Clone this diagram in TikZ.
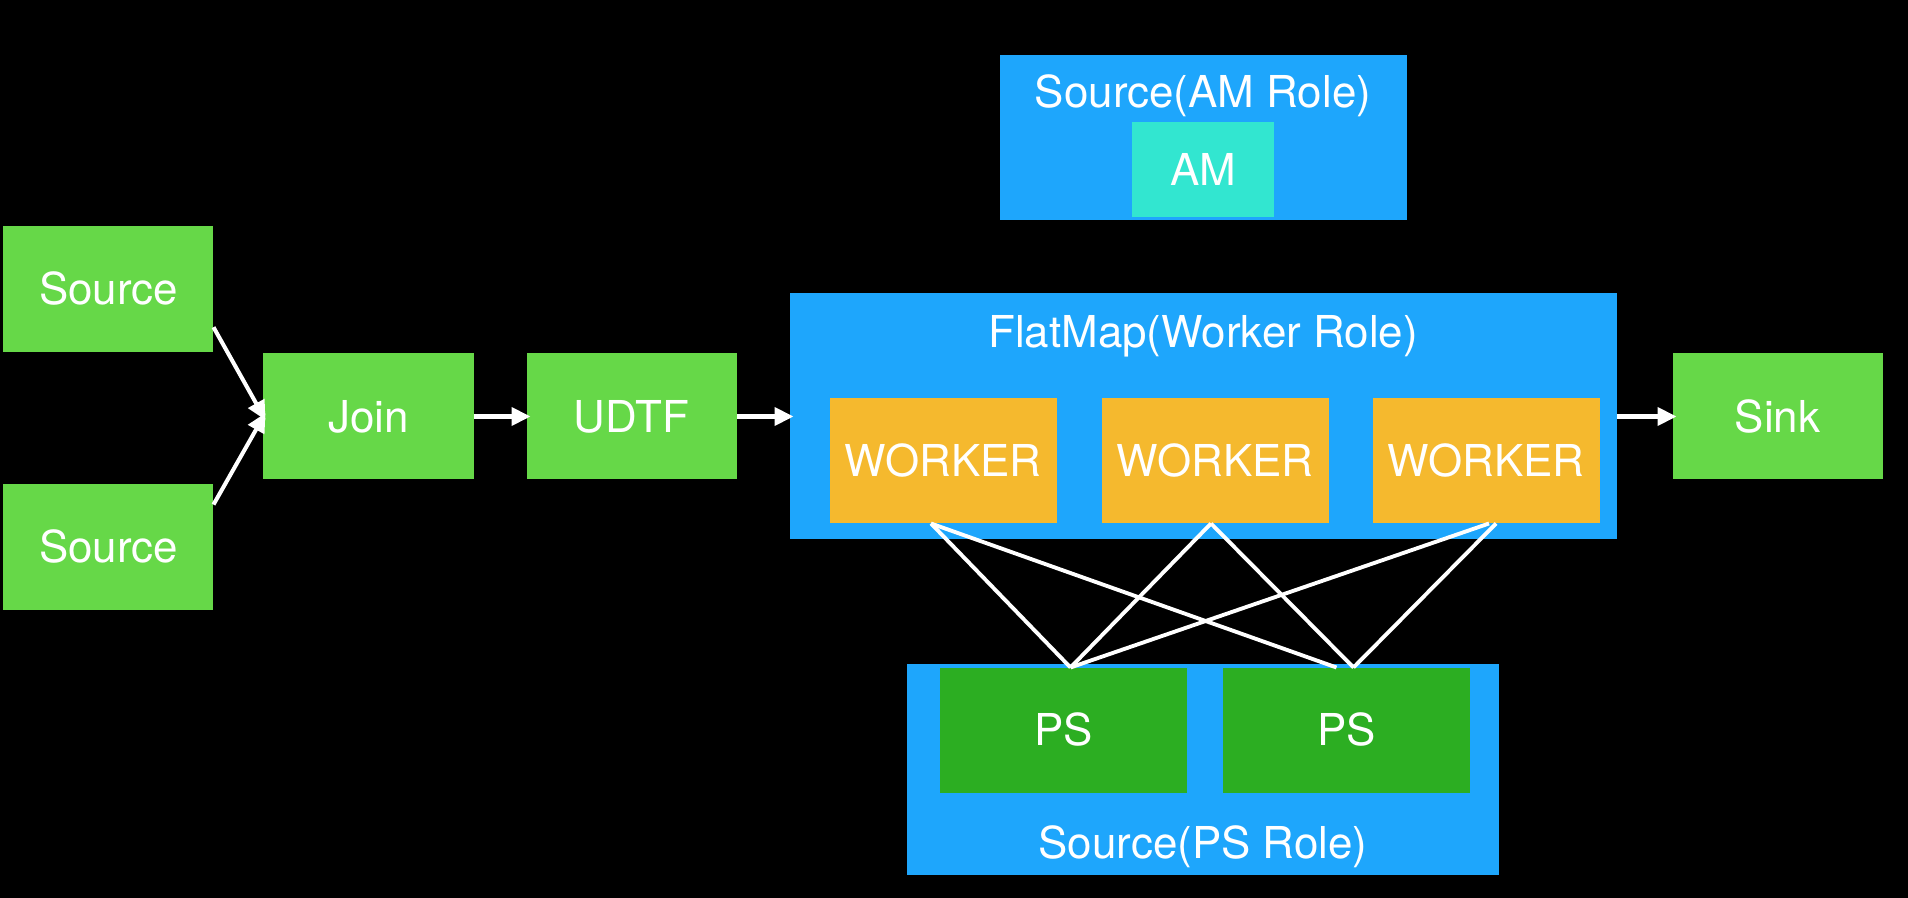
\documentclass[tikz,border=0pt]{standalone}
\usepackage{fontspec}
\setmainfont{TeX Gyre Heros}
\usepackage{tikz}
\usetikzlibrary{positioning, arrows.meta}
\definecolor{stagegreen}{RGB}{102,216,72}
\definecolor{roleblue}{RGB}{30,166,252}
\definecolor{workerorange}{RGB}{245,185,46}
\definecolor{amcyan}{RGB}{50,230,208}
\definecolor{psgreen}{RGB}{44,174,34}
\tikzstyle{stage} = [rectangle, minimum width=2.1cm, minimum height=1.26cm, text centered, fill=stagegreen, text=white]
\tikzstyle{role} = [rectangle, fill=roleblue]
\tikzstyle{roletitle} = [text=white, inner sep=0pt]
\tikzstyle{worker} = [rectangle, minimum width=2.27cm, minimum height=1.25cm, text centered, fill=workerorange, text=white]
\tikzstyle{ambox} = [rectangle, minimum width=1.42cm, minimum height=0.95cm, text centered, fill=amcyan, text=white]
\tikzstyle{psbox} = [rectangle, minimum width=2.47cm, minimum height=1.25cm, text centered, fill=psgreen, text=white]
\tikzstyle{arrow} = [white, line width=1.15pt, ->, >={Triangle[length=1.9mm, width=1.8mm]}, shorten >=-0.4mm]
\tikzstyle{link} = [white, line width=1.1pt]

\begin{document}
\begin{tikzpicture}[every node/.style={font=\fontsize{12.5}{15}\selectfont, text height=0.315cm, text depth=0pt, outer sep=0pt}]
		\fill [black] (-3.685,-4.815) rectangle (15.395,4.165);
		
		\node (join) [stage] {Join};
		\node (src1) [stage, left=0.5cm of join, yshift=1.275cm] {Source};
		\node (src2) [stage, left=0.5cm of join, yshift=-1.305cm] {Source};
		\node (udtf) [stage, right=0.53cm of join] {UDTF};
		
		% worker role
		\node (fm) [role, minimum width=8.27cm, minimum height=2.46cm, right=0.53cm of udtf] {};
		\node (fmtitle) [roletitle] at ([yshift=-0.38cm]fm.north) {FlatMap(Worker Role)};
		\node (w1) [worker, above right=0.16cm and 0.4cm of fm.south west] {WORKER};
		\node (w2) [worker, right=0.45cm of w1] {WORKER};
		\node (w3) [worker, right=0.44cm of w2] {WORKER};
		\node (sink) [stage, right=0.56cm of fm] {Sink};
		
		% am role
		\node (amrole) [role, minimum width=4.07cm, minimum height=1.65cm, above=0.735cm of fm] {};
		\node (amtitle) [roletitle] at ([yshift=-0.365cm]amrole.north) {Source(AM Role)};
		\node (am) [ambox, above=0.03cm of amrole.south] {AM};
		
		% ps role
		\node (psrole) [role, minimum width=5.92cm, minimum height=2.11cm, below=1.24cm of fm] {};
		\node (ps1) [psbox, below right=0.04cm and 0.33cm of psrole.north west] {PS};
		\node (ps2) [psbox, right=0.36cm of ps1] {PS};
		\node (pstitle) [roletitle] at ([yshift=0.32cm]psrole.south) {Source(PS Role)};
		
		\draw [arrow] (src1.-20) -- (join.west);
		\draw [arrow] (src2.22) -- (join.west);
		\draw [arrow] (join) -- (udtf);
		\draw [arrow] (udtf) -- (fm);
		\draw [arrow] (fm) -- (sink);
		
		\draw [link] ([xshift=-0.12cm]w1.south) -- ([xshift=0.07cm]ps1.north);
		\draw [link] ([xshift=-0.12cm]w1.south) -- ([xshift=-0.1cm]ps2.north);
		\draw [link] ([xshift=-0.04cm]w2.south) -- ([xshift=0.07cm]ps1.north);
		\draw [link] ([xshift=-0.04cm]w2.south) -- ([xshift=0.07cm]ps2.north);
		\draw [link] ([xshift=0.03cm]w3.south) -- ([xshift=0.07cm]ps1.north);
		\draw [link] ([xshift=0.1cm]w3.south) -- ([xshift=0.07cm]ps2.north);
	\end{tikzpicture}
\end{document}
